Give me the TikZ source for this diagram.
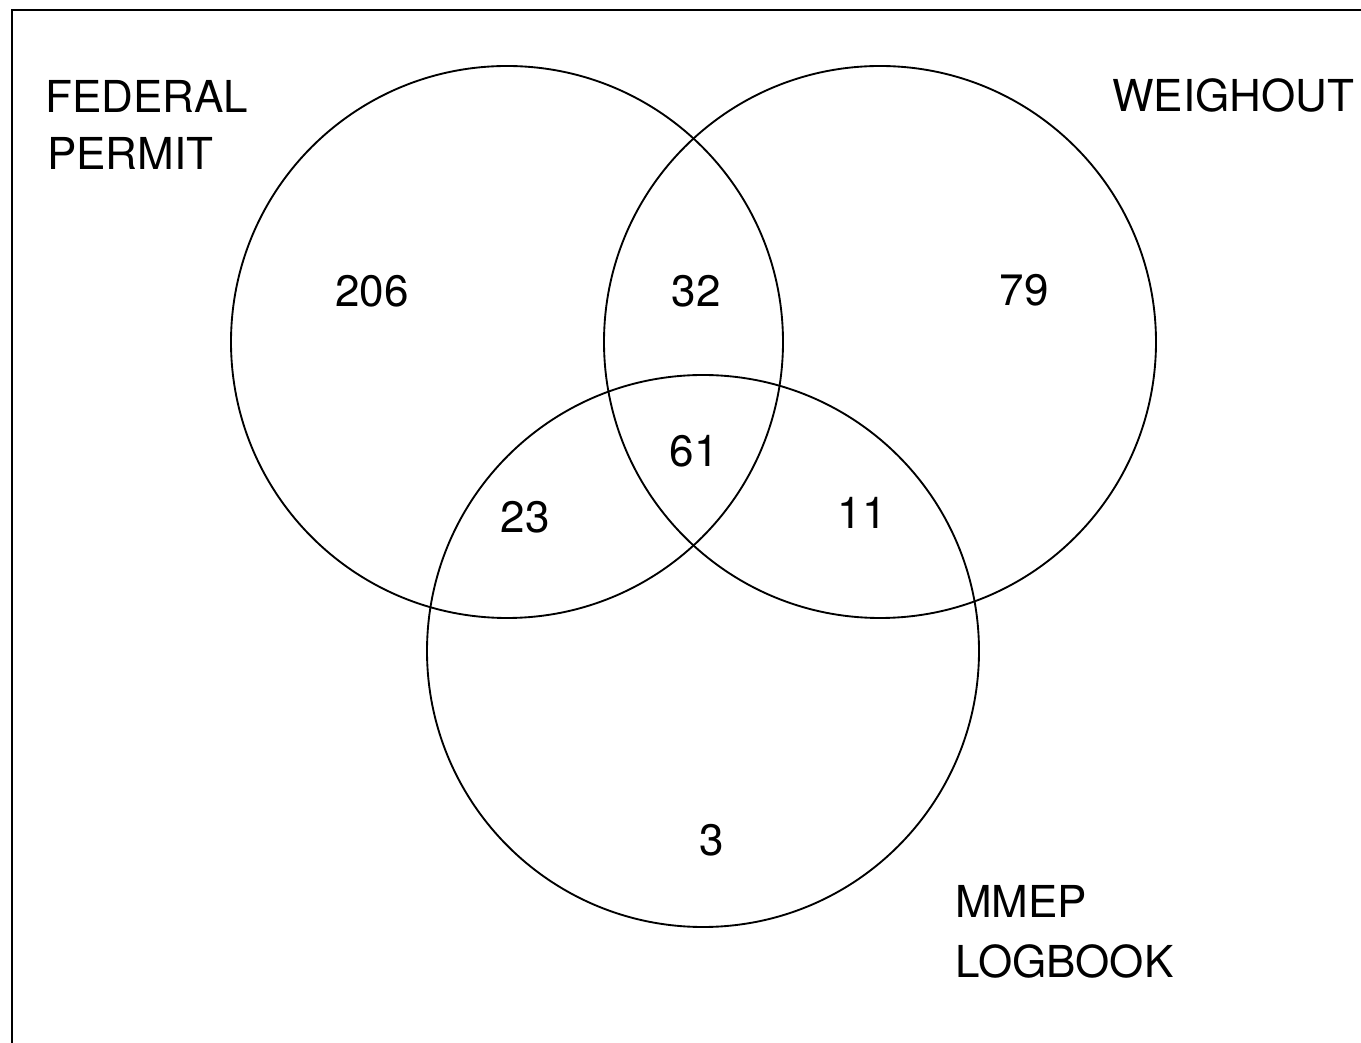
\documentclass[tikz,border=0pt]{standalone}
\usepackage{fontspec}
\setmainfont{TeX Gyre Heros}
\tikzset{
 setring/.style={line width=1.4pt},
 frameline/.style={line width=1.1pt},
 setname/.style={anchor=base west,inner sep=0,font=\fontsize{33}{40}\selectfont},
 count/.style={inner sep=0,font=\fontsize{33}{40}\selectfont}
}
\begin{document}
\begin{tikzpicture}[x=0.75pt,y=0.75pt]
\path[use as bounding box] (0,0) rectangle (1361,1043);
% page frame, only top and left edge printed
\coordinate (frameBL) at (12,0);
\coordinate (frameTL) at (12,1033);
\coordinate (frameTR) at (1361,1033);
\draw[frameline] (frameBL) -- (frameTL) -- (frameTR);
% set centres
\coordinate (F) at (507,701);
\coordinate (W) at (880,701);
\coordinate (M) at (703,392);
\draw[setring] (F) circle[radius=276];
\draw[setring] (W) circle[radius=276];
\draw[setring] (M) circle[radius=276];
% set names
\node[setname] (fed) at (45,930) {FEDERAL};
\node[setname] (perm) at (47,873) {PERMIT};
\node[setname] (weigh) at (1112,931) {WEIGHOUT};
\node[setname] (mmep) at (955,125) {MMEP};
\node[setname] (logb) at (955,65) {LOGBOOK};
% counts
\node[count] (nF) at (372,752) {206};
\node[count] (nFW) at (696,752) {32};
\node[count] (nW) at (1024,753) {79};
\node[count] (nFWM) at (694,592) {61};
\node[count] (nFM) at (525,526) {23};
\node[count] (nWM) at (862,530) {11};
\node[count] (nM) at (712,203) {3};
\end{tikzpicture}
\end{document}
